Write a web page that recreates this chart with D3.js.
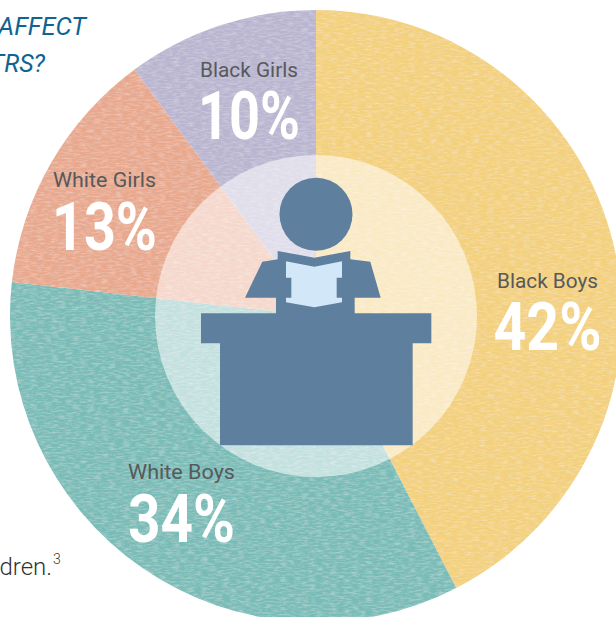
<!DOCTYPE html>
<html><head><meta charset="utf-8">
<style>html,body{margin:0;padding:0;background:#fff;overflow:hidden}svg{display:block}text{font-family:Roboto,sans-serif}</style>
<script src="https://cdn.jsdelivr.net/npm/d3@7/dist/d3.min.js"></script></head>
<body><svg id="c" width="616" height="617"></svg>
<script>
const categories=["Black Boys","White Boys","White Girls","Black Girls"];
const shares=[42,34,13,10];
const shareLabels=["42%","34%","13%","10%"];
const sliceColors=["#f3d07c","#79bcb7","#e8a88d","#b9b5d0"];
const labelAnchors=[[547.5,288,350],[181.5,479,542],[104.5,187,250],[249,77,139]];
const nameWidths=[101,107,103,98];
const shareWidths=[108,107,105,102];
const svg=d3.select("#c"),cx=316,cy=316,R=306,r=161;
const defs=svg.append("defs");
const f=defs.append("filter").attr("id","grain").attr("x",0).attr("y",0).attr("width","100%").attr("height","100%");
f.append("feTurbulence").attr("type","fractalNoise").attr("baseFrequency","0.14 0.55").attr("numOctaves",3).attr("seed",4).attr("result","n");
f.append("feColorMatrix").attr("in","n").attr("type","matrix").attr("values","0 0 0 0 1  0 0 0 0 1  0 0 0 0 1  0.55 0 0 0 -0.22").attr("result","w");
f.append("feComposite").attr("in","w").attr("in2","SourceGraphic").attr("operator","in").attr("result","t");
f.append("feMerge").selectAll("feMergeNode").data(["SourceGraphic","t"]).join("feMergeNode").attr("in",d=>d);
// text of the page that runs behind the pie, cut off at the window edge
svg.append("text").attr("x",-2).attr("y",35).attr("textLength",88).attr("lengthAdjust","spacingAndGlyphs").attr("font-size",25).attr("font-style","italic").attr("fill","#0f6590").text("AFFECT");
svg.append("text").attr("x",45).attr("y",72).attr("text-anchor","end").attr("font-size",25).attr("font-style","italic").attr("fill","#0f6590").text("TRS?");
svg.append("text").attr("x",52).attr("y",575).attr("text-anchor","end").attr("font-size",24).attr("font-weight",300).attr("fill","#333").text("dren.");
svg.append("text").attr("x",53).attr("y",564).attr("font-size",14).attr("font-weight",300).attr("fill","#333").text("3");
const pie=d3.pie().sort(null)(shares);
const arc=d3.arc().innerRadius(0).outerRadius(R);
const g=svg.append("g").attr("transform",`translate(${cx},${cy})`);
g.selectAll("path").data(pie).join("path").attr("d",arc).attr("fill",(d,i)=>sliceColors[i]).attr("filter","url(#grain)");
g.append("circle").attr("r",r).attr("fill","#fff").attr("fill-opacity",0.55);
// pictogram
const icon=svg.append("g").attr("transform","translate(180,160) scale(0.33333)");
icon.append("circle").attr("cx",408).attr("cy",163).attr("r",109.5).attr("fill","#5f7f9f");
icon.append("path").attr("fill","#5f7f9f").attr("d","M195 413L247 305L293 298L293 273L403 293L511 273L511 298L571 305L602 413L524 413L524 460L754 460L754 550L698 550L698 856L120 856L120 550L63 550L63 460L288 460L288 413Z");
icon.append("path").attr("fill","#d2e7f7").attr("d","M318 304L403 320L486 304L486 353L470 353L470 413L486 413L486 427L403 442L318 427L318 413L334 413L334 353L318 353Z");
// labels
const labels=svg.append("g").selectAll("g").data(categories).join("g");
labels.append("text").attr("x",(d,i)=>labelAnchors[i][0]).attr("y",(d,i)=>labelAnchors[i][1]).attr("text-anchor","middle").attr("font-size",21).attr("textLength",(d,i)=>nameWidths[i]).attr("lengthAdjust","spacingAndGlyphs").attr("fill","#57595b").text(d=>d);
labels.append("text").attr("x",(d,i)=>labelAnchors[i][0]).attr("y",(d,i)=>labelAnchors[i][2]).attr("text-anchor","middle").attr("font-size",67).attr("font-weight",700).attr("textLength",(d,i)=>shareWidths[i]).attr("lengthAdjust","spacingAndGlyphs").attr("fill","#fff").text((d,i)=>shareLabels[i]);
</script></body></html>
